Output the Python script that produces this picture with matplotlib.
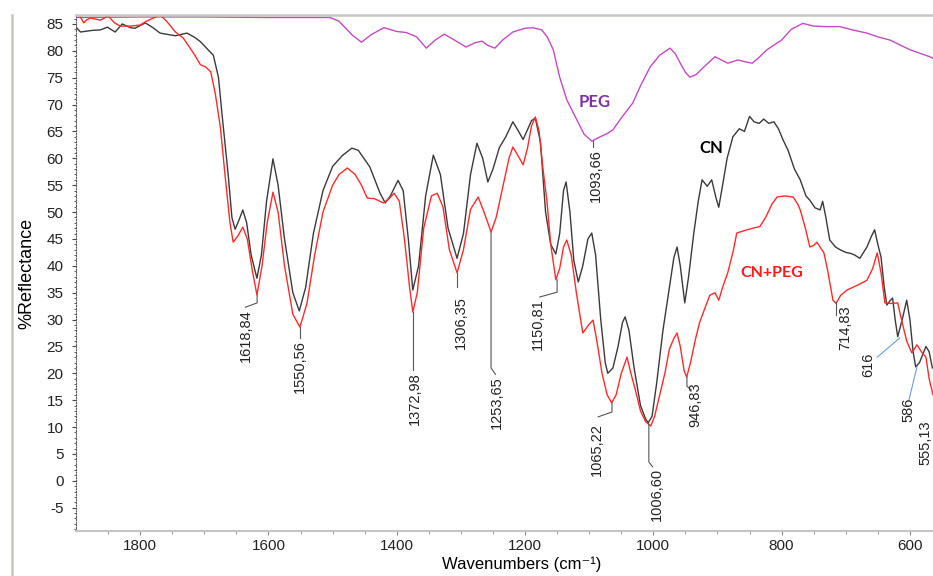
import matplotlib.pyplot as plt
from matplotlib.lines import Line2D

plt.rcParams['font.family'] = ['Liberation Sans', 'DejaVu Sans']
plt.rcParams['axes.unicode_minus'] = False

# CN spectrum (wavenumber cm-1, %Reflectance)
cn_wn = [1900, 1893, 1875, 1862, 1851, 1839, 1828, 1815, 1808, 1792, 1780, 1769, 1745, 1727,
         1715, 1706, 1691, 1686, 1678, 1672, 1663, 1657, 1652, 1646, 1640, 1634, 1627, 1618,
         1611, 1603, 1593, 1585, 1575, 1562, 1552, 1542, 1530, 1515, 1500, 1485, 1470, 1460,
         1442, 1426, 1418, 1410, 1398, 1390, 1382, 1375, 1366, 1355, 1343, 1332, 1320, 1306,
         1296, 1285, 1275, 1266, 1258, 1250, 1240, 1230, 1219, 1210, 1203, 1190, 1184, 1176,
         1168, 1160, 1152, 1146, 1140, 1136, 1130, 1124, 1117, 1110, 1102, 1096, 1090, 1082,
         1075, 1071, 1063, 1055, 1048, 1044, 1038, 1030, 1020, 1012, 1008, 1002, 995, 985,
         975, 968, 963, 958, 951, 945, 937, 930, 924, 916, 909, 902, 898, 892, 885, 876,
         866, 858, 850, 843, 835, 828, 820, 812, 805, 798, 790, 780, 771, 762, 756, 748,
         740, 736, 731, 725, 716, 709, 700, 692, 686, 678, 667, 660, 655, 650, 645, 640,
         636, 631, 627, 623, 619, 612, 605, 600, 595, 591, 585, 580, 575, 570, 565]
cn_r = [84.4, 83.5, 83.8, 83.9, 84.4, 83.5, 85.0, 84.3, 84.2, 85.2, 84.3, 83.3, 82.8, 83.3,
        82.5, 81.7, 79.8, 79.2, 75.1, 67.7, 57.2, 49.0, 46.8, 48.5, 50.4, 48.0, 42.0, 37.7,
        42.0, 52.0, 59.9, 55.0, 45.0, 35.0, 31.6, 36.0, 46.0, 54.0, 58.5, 60.5, 61.9, 61.5,
        58.4, 53.5, 51.7, 53.0, 55.9, 54.0, 45.0, 35.5, 40.0, 53.0, 60.6, 57.0, 47.0, 41.4,
        46.0, 57.0, 62.8, 60.0, 55.6, 58.0, 62.0, 64.0, 66.8, 65.0, 63.5, 67.0, 67.5, 63.0,
        50.0, 44.0, 42.2, 46.0, 54.0, 55.6, 50.0, 41.0, 37.0, 40.0, 45.0, 46.1, 42.0, 30.0,
        22.0, 20.0, 21.0, 25.0, 29.5, 30.5, 28.0, 21.0, 14.0, 11.5, 10.8, 12.0, 18.0, 28.0,
        36.0, 41.5, 43.5, 40.0, 33.1, 38.0, 46.0, 52.0, 56.0, 54.8, 56.0, 52.5, 50.9, 55.0,
        60.0, 64.0, 65.5, 65.0, 67.8, 66.8, 66.5, 67.3, 66.5, 66.8, 65.5, 63.5, 61.5, 58.0,
        56.0, 53.0, 52.2, 50.8, 50.4, 52.0, 49.0, 44.8, 43.5, 43.0, 42.5, 42.3, 42.0, 41.4,
        43.5, 45.5, 46.7, 44.0, 41.6, 36.0, 32.7, 33.5, 34.0, 30.0, 26.8, 30.0, 33.6, 30.0,
        24.0, 21.2, 22.0, 23.5, 25.0, 24.0, 21.0]

# CN+PEG spectrum
mix_wn = [1900, 1895, 1888, 1883, 1877, 1862, 1850, 1840, 1831, 1815, 1800, 1792, 1778, 1769,
          1758, 1745, 1733, 1717, 1706, 1698, 1690, 1683, 1675, 1667, 1660, 1655, 1648, 1640,
          1633, 1625, 1618, 1610, 1602, 1593, 1585, 1575, 1562, 1551, 1540, 1528, 1515, 1500,
          1490, 1477, 1465, 1455, 1446, 1435, 1421, 1412, 1404, 1396, 1388, 1380, 1375, 1368,
          1358, 1346, 1337, 1328, 1318, 1306, 1296, 1285, 1273, 1264, 1253, 1245, 1234, 1225,
          1219, 1211, 1203, 1196, 1190, 1184, 1178, 1172, 1166, 1160, 1152, 1146, 1140, 1135,
          1128, 1120, 1110, 1101, 1094, 1088, 1080, 1072, 1065, 1058, 1050, 1041, 1035, 1028,
          1020, 1012, 1004, 998, 990, 982, 975, 968, 963, 958, 952, 948, 942, 935, 928, 920,
          912, 904, 898, 892, 884, 875, 870, 862, 854, 845, 834, 825, 815, 807, 795, 782,
          775, 771, 763, 756, 750, 745, 740, 734, 728, 720, 715, 708, 698, 680, 667, 658,
          651, 645, 639, 630, 619, 612, 605, 597, 589, 582, 575, 570, 564]
mix_r = [86.5, 86.7, 85.2, 85.8, 86.1, 85.7, 86.5, 85.2, 84.6, 84.6, 84.8, 85.4, 86.2, 86.7,
         85.4, 83.5, 82.4, 79.6, 77.4, 77.0, 76.1, 72.1, 65.8, 56.0, 48.0, 44.4, 45.5, 47.2,
         45.0, 39.0, 34.6, 40.0, 48.0, 53.7, 50.0, 40.0, 31.0, 28.6, 33.0, 42.0, 50.0, 55.0,
         57.0, 58.2, 57.0, 55.0, 52.6, 52.5, 51.7, 52.5, 53.5, 52.0, 45.0, 36.0, 31.4, 35.0,
         47.0, 53.0, 53.5, 51.0, 43.0, 38.7, 43.0, 50.5, 52.8, 50.0, 46.3, 49.0, 55.0, 60.0,
         62.1, 60.5, 58.8, 62.0, 66.0, 67.7, 65.0, 58.0, 52.2, 44.0, 37.4, 39.5, 43.5, 44.8,
         42.0, 35.0, 27.5, 29.0, 29.9, 26.0, 20.0, 16.0, 14.5, 16.0, 20.0, 23.0, 20.0, 16.9,
         13.0, 11.0, 10.2, 12.0, 16.0, 20.0, 24.5, 26.5, 27.5, 25.0, 20.5, 19.3, 22.0, 26.0,
         29.4, 32.0, 34.5, 35.0, 33.6, 36.0, 38.7, 43.0, 46.1, 46.4, 46.7, 47.0, 47.3, 49.0,
         51.5, 52.8, 53.0, 52.8, 51.5, 50.4, 47.0, 43.5, 43.8, 44.4, 43.5, 42.4, 39.0, 33.6,
         33.0, 34.5, 35.5, 36.5, 37.3, 39.5, 42.4, 38.7, 33.1, 33.0, 33.1, 29.4, 26.0, 23.8,
         25.3, 24.0, 23.0, 19.0, 16.0]

# PEG spectrum
peg_wn = [1900, 1800, 1700, 1600, 1504, 1490, 1470, 1455, 1440, 1420, 1400, 1385, 1369, 1354,
          1340, 1326, 1310, 1292, 1278, 1267, 1258, 1247, 1235, 1219, 1200, 1188, 1174, 1165,
          1156, 1146, 1135, 1119, 1108, 1096, 1083, 1072, 1063, 1050, 1032, 1020, 1005, 990,
          974, 966, 958, 950, 943, 933, 923, 904, 894, 884, 868, 858, 846, 835, 823, 800,
          785, 767, 750, 729, 709, 690, 667, 650, 631, 600, 569, 564]
peg_r = [86.2, 86.3, 86.3, 86.2, 86.2, 85.5, 83.0, 81.6, 83.0, 84.3, 83.6, 83.4, 82.6, 80.5,
         82.0, 83.1, 82.0, 80.7, 81.5, 81.8, 81.0, 80.5, 82.0, 83.5, 84.2, 84.3, 83.9, 82.5,
         80.2, 75.1, 70.9, 67.1, 64.5, 63.2, 64.0, 64.6, 65.3, 67.5, 70.3, 73.5, 77.0, 79.2,
         80.5, 79.5, 77.7, 76.0, 75.1, 75.6, 76.8, 78.9, 78.3, 77.7, 78.3, 78.0, 77.7, 78.8,
         80.2, 82.0, 84.0, 85.1, 84.6, 84.5, 84.5, 83.9, 83.3, 82.6, 82.0, 80.2, 78.9, 78.6]

# peak annotations: label, anchor wavenumber, anchor value
peak_labels = ["1618,84", "1550,56", "1372,98", "1306,35", "1253,65", "1150,81", "1093,66",
               "1065,22", "1006,60", "946,83", "714,83", "616", "586", "555,13"]
peak_wn = [1617.7, 1550.7, 1374.6, 1306, 1253, 1150, 1094, 1064.5, 1007, 947.6, 715.4,
           615.6, 589, 555.13]
peak_r = [34.6, 28.6, 31.4, 38.7, 46.3, 37.4, 63.3, 14.5, 10.6, 19.3, 33.3, 26.6, 21.2, None]

# leader layout: bend value, leader end (wn, value), text (wn, top value), colour
leader_bend = [33.1, 26.6, 20.6, 36.1, 21.0, 35.1, 62.1, 12.8, 3.5, 17.6, 30.9, 26.6, 21.2, None]
leader_end = [(1636, 32.3), (1550.7, 26.6), (1374.6, 20.6), (1306, 36.1), (1246, 19.8),
              (1177, 34.2), (1094, 62.1), (1086, 11.9), (1001, 2.6), (941, 16.9),
              (715.4, 30.9), (651, 23.0), (601.6, 15.0), None]
text_pos = [(1636, 32.0), (1550.7, 26.1), (1372, 20.2), (1300, 34.3), (1244, 19.4),
            (1180, 34.0), (1090, 61.7), (1088, 10.8), (994, 2.4), (934, 18.4),
            (701, 32.7), (665, 23.8), (603, 15.4), (576, 11.3)]
leader_col = ['#555555'] * 11 + ['#6a9fd8', '#6a9fd8', None]

fig, ax = plt.subplots(figsize=(9.33, 5.76), dpi=100)
fig.subplots_adjust(left=0.0815, right=1.0, bottom=0.0781, top=0.974)

ax.plot(peg_wn, peg_r, color='#c44ac4', lw=1.0)
ax.plot(cn_wn, cn_r, color='#3a3a3a', lw=1.0)
ax.plot(mix_wn, mix_r, color='#ff2a2a', lw=1.0)

for i, lab in enumerate(peak_labels):
    if peak_r[i] is not None:
        ex, ey = leader_end[i]
        ax.plot([peak_wn[i], peak_wn[i], ex], [peak_r[i], leader_bend[i], ey],
                color=leader_col[i], lw=0.8)
    tx, ty = text_pos[i]
    ax.text(tx, ty, lab, rotation=90, ha='center', va='top', fontsize=10.5, color='#222222')

ax.text(1091, 70.5, 'PEG', color='#8031a7', fontsize=12, fontweight='bold', family='Lato',
        ha='center', va='center')
ax.text(910, 62, 'CN', color='black', fontsize=12, fontweight='bold', family='Lato',
        ha='center', va='center')
ax.text(816, 38.6, 'CN+PEG', color='#ff1a1a', fontsize=11.5, fontweight='bold', family='Lato',
        ha='center', va='center')

ax.set_xlim(1900, 564)
ax.set_ylim(-9.34, 86.67)
ax.set_xticks([1800, 1600, 1400, 1200, 1000, 800, 600])
ax.set_xticks(range(1850, 564, -50), minor=True)
ax.set_yticks(range(-5, 86, 5))
ax.set_yticks(range(-9, 87), minor=True)
ax.tick_params(axis='both', labelsize=11, colors='#222222')
ax.tick_params(axis='x', which='major', length=3, color='#888888', pad=3)
ax.tick_params(axis='x', which='minor', length=2, color='#888888')
ax.tick_params(axis='y', which='major', length=3, color='#444444', pad=6)
ax.tick_params(axis='y', which='minor', length=1.5, color='#444444')

ax.spines['right'].set_visible(False)
ax.spines['top'].set_color('#c8c6bc')
ax.spines['top'].set_linewidth(1.8)
ax.spines['bottom'].set_color('#c4c4c4')
ax.spines['bottom'].set_linewidth(1.5)
ax.spines['left'].set_color('#555555')
ax.spines['left'].set_linewidth(0.8)
ax.spines['left'].set_linestyle((0, (1, 1.5)))

ax.set_xlabel('Wavenumbers (cm⁻¹)', fontsize=12)
ax.xaxis.set_label_coords(0.52, -0.05)
ax.set_ylabel('%Reflectance', fontsize=13)
ax.yaxis.set_label_coords(-0.047, 0.5)

# outer frame
fig.add_artist(Line2D([12 / 933, 12 / 933], [0, 1 - 15 / 576], transform=fig.transFigure,
                      color='#c8c6bc', lw=1.8))

fig.savefig('out.png', dpi=100)
